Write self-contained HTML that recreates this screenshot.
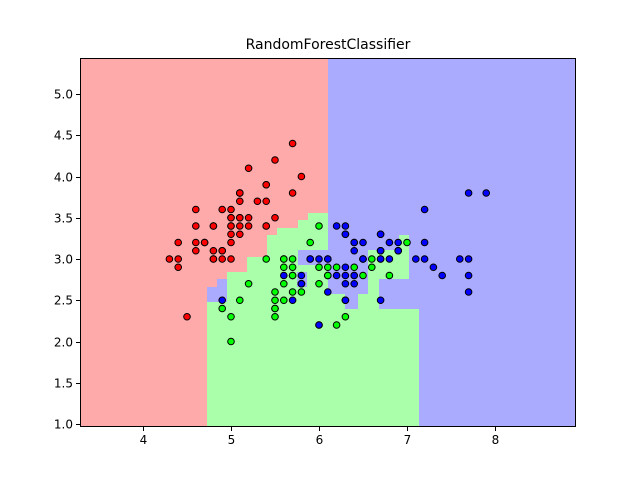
<!DOCTYPE html>
<html><head><meta charset="utf-8"><style>
body{margin:0;background:#fff;}
svg{display:block;font-family:"WenQuanYi Zen Hei","DejaVu Sans",sans-serif;}
</style></head><body>
<svg id="chart" width="640" height="480">
<text x="328" y="49" text-anchor="middle" font-size="14">RandomForestClassifier</text>
<g id="regions"></g>
<g id="points"></g>
<g id="axes"></g>
</svg>
<script>
const xTicks=[4,5,6,7,8];
const yTicks=[1.0,1.5,2.0,2.5,3.0,3.5,4.0,4.5,5.0];
const setosa=[[5.1,3.5],[4.9,3.0],[4.7,3.2],[4.6,3.1],[5.0,3.6],[5.4,3.9],[4.6,3.4],[5.0,3.4],[4.4,2.9],[4.9,3.1],[5.4,3.7],[4.8,3.4],[4.8,3.0],[4.3,3.0],[5.8,4.0],[5.7,4.4],[5.4,3.9],[5.1,3.5],[5.7,3.8],[5.1,3.8],[5.4,3.4],[5.1,3.7],[4.6,3.6],[5.1,3.3],[4.8,3.4],[5.0,3.0],[5.0,3.4],[5.2,3.5],[5.2,3.4],[4.7,3.2],[4.8,3.1],[5.4,3.4],[5.2,4.1],[5.5,4.2],[4.9,3.1],[5.0,3.2],[5.5,3.5],[4.9,3.6],[4.4,3.0],[5.1,3.4],[5.0,3.5],[4.5,2.3],[4.4,3.2],[5.0,3.5],[5.1,3.8],[4.8,3.0],[5.1,3.8],[4.6,3.2],[5.3,3.7],[5.0,3.3]];
const versicolor=[[7.0,3.2],[6.4,3.2],[6.9,3.1],[5.5,2.3],[6.5,2.8],[5.7,2.8],[6.3,3.3],[4.9,2.4],[6.6,2.9],[5.2,2.7],[5.0,2.0],[5.9,3.0],[6.0,2.2],[6.1,2.9],[5.6,2.9],[6.7,3.1],[5.6,3.0],[5.8,2.7],[6.2,2.2],[5.6,2.5],[5.9,3.2],[6.1,2.8],[6.3,2.5],[6.1,2.8],[6.4,2.9],[6.6,3.0],[6.8,2.8],[6.7,3.0],[6.0,2.9],[5.7,2.6],[5.5,2.4],[5.5,2.4],[5.8,2.7],[6.0,2.7],[5.4,3.0],[6.0,3.4],[6.7,3.1],[6.3,2.3],[5.6,3.0],[5.5,2.5],[5.5,2.6],[6.1,3.0],[5.8,2.6],[5.0,2.3],[5.6,2.7],[5.7,3.0],[5.7,2.9],[6.2,2.9],[5.1,2.5],[5.7,2.8]];
const virginica=[[6.3,3.3],[5.8,2.7],[7.1,3.0],[6.3,2.9],[6.5,3.0],[7.6,3.0],[4.9,2.5],[7.3,2.9],[6.7,2.5],[7.2,3.6],[6.5,3.2],[6.4,2.7],[6.8,3.0],[5.7,2.5],[5.8,2.8],[6.4,3.2],[6.5,3.0],[7.7,3.8],[7.7,2.6],[6.0,2.2],[6.9,3.2],[5.6,2.8],[7.7,2.8],[6.3,2.7],[6.7,3.3],[7.2,3.2],[6.2,2.8],[6.1,3.0],[6.4,2.8],[7.2,3.0],[7.4,2.8],[7.9,3.8],[6.4,2.8],[6.3,2.8],[6.1,2.6],[7.7,3.0],[6.3,3.4],[6.4,3.1],[6.0,3.0],[6.9,3.1],[6.7,3.1],[6.9,3.1],[5.8,2.7],[6.8,3.2],[6.7,3.3],[6.7,3.0],[6.3,2.5],[6.5,3.0],[6.2,3.4],[5.9,3.0]];
const L=80,R=576,T=58,B=427;
function sx(v){return 143+(v-4)*88;}
function sy(v){return 424-(v-1)*82.5;}
const NS='http://www.w3.org/2000/svg';
function mk(tag,attrs,parent){const e=document.createElementNS(NS,tag);for(const k in attrs)e.setAttribute(k,attrs[k]);parent.appendChild(e);return e;}
const reg=document.getElementById('regions');
let e;
e=mk('rect',{x:L,y:T,width:R-L,height:B-T,fill:'#aaaaff'},reg);


e=mk('rect',{x:L,y:T,width:328-L,height:B-T,fill:'#ffaaaa'},reg);


const gp=[[207,427],[207,302],[227,302],[227,272],[247,272],[247,257],[267,257],[267,235],[277,235],[277,228],[298,228],[298,220],[308,220],[308,213],[328,213],[328,250],[399,250],[399,235],[409,235],[409,279],[379,279],[379,309],[419,309],[419,427]];
e=mk('polygon',{points:gp.map(p=>p.join(',')).join(' '),fill:'#aaffaa'},reg);


const blues=[[298,250,30,15],[328,250,40,44],[345,294,13,15],[297,272,10,15],[207,287,20,15],[217,279,10,8]];
blues.forEach(b=>{const r=mk('rect',{x:b[0],y:b[1],width:b[2],height:b[3],fill:'#aaaaff'},reg);

});
const pts=document.getElementById('points');
[[setosa,'#ff0000','setosa'],[versicolor,'#00ff00','versicolor'],[virginica,'#0000ff','virginica']].forEach(s=>{
 s[0].forEach(p=>{const c=mk('circle',{cx:sx(p[0]),cy:sy(p[1]),r:3.3,fill:s[1],stroke:'#000','stroke-width':1},pts);
 
 });
});
const ax=document.getElementById('axes');
e=mk('rect',{x:L+0.5,y:T+0.5,width:R-L-1,height:B-T-1,fill:'none',stroke:'#000','stroke-width':1},ax);


xTicks.forEach(v=>{const x=Math.round(sx(v))+0.5;
 mk('line',{x1:x,y1:B,x2:x,y2:B+4,stroke:'#000'},ax);
 const t=mk('text',{x:x,y:B+17,'text-anchor':'middle','font-size':12},ax);t.textContent=v;
 
 });
yTicks.forEach(v=>{const y=Math.round(sy(v))+0.5;
 mk('line',{x1:L-4,y1:y,x2:L,y2:y,stroke:'#000'},ax);
 const t=mk('text',{x:L-7,y:y+4,'text-anchor':'end','font-size':12},ax);t.textContent=v.toFixed(1);
 
 });
</script>
</body></html>
